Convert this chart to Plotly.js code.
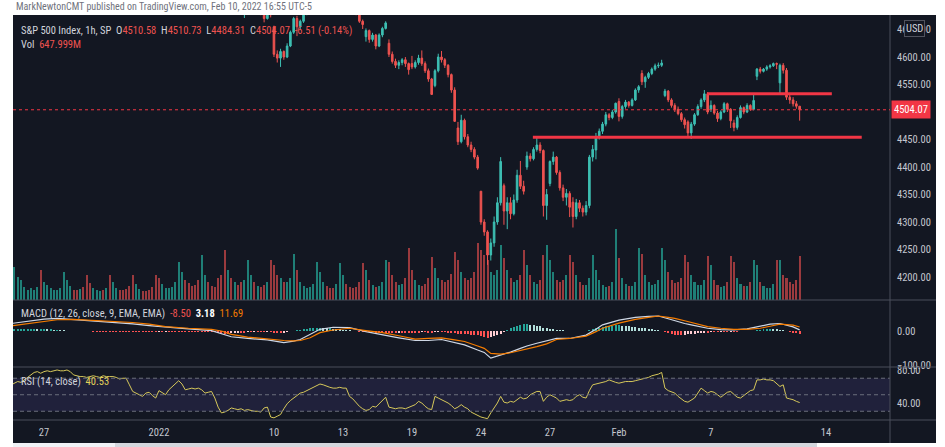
<!DOCTYPE html>
<html><head><meta charset="utf-8">
<script src="https://cdn.plot.ly/plotly-3.0.1.min.js"></script>
<style>html,body{margin:0;padding:0;background:#fff;overflow:hidden}#chart{width:945px;height:447px}</style>
</head><body><div id="chart"></div>
<script>
// ---------- DATA (hourly bars, index 0 = first bar of Dec 27, 2021) ----------
const firstBar = -10;
const barsPerDay = [3,7,7,7,7,7,7,7,7,7,7,7,7,7,7,7,7,7,7,7,7,7,7,7,7,7,7,7,7,7,7,7,7,7,7];
// day opens: Dec22(part),Dec23,Dec27..Dec31,Jan3..7,Jan10..14,Jan18..21,Jan24..28,Jan31,Feb1..4,Feb7..10
const dayOpen = [4680,4703,4733,4795,4788,4795,4776,4779,4804,4787,4693,4698,4655,4670,4728,4733,4637,4625,4588,4548,4471,4356,4366,4400,4370,4336,4431,4519,4570,4530,4482,4505,4480,4565,4553];
const close = [
4686,4690,4696,
4712,4718,4722,4728,4730,4735,4725,
4750,4760,4768,4774,4780,4786,4791,
4800,4805,4798,4792,4795,4790,4786,
4782,4790,4795,4800,4798,4802,4793,
4802,4806,4800,4798,4795,4785,4778,
4780,4785,4778,4775,4772,4770,4766,
4765,4770,4778,4785,4790,4793,4796,
4815,4810,4800,4790,4785,4780,4793,
4795,4790,4785,4775,4740,4720,4701,
4700,4690,4710,4705,4685,4690,4696,
4700,4690,4695,4680,4670,4680,4677,
4605,4598,4610,4600,4620,4645,4670,
4655,4665,4680,4690,4700,4705,4713,
4740,4745,4730,4720,4715,4720,4726,
4740,4725,4710,4695,4680,4665,4659,
4648,4632,4640,4620,4640,4652,4662,
4605,4592,4585,4590,4595,4588,4577,
4582,4590,4598,4588,4575,4560,4532,
4575,4600,4595,4585,4568,4540,4483,
4446,4485,4455,4440,4432,4418,4398,
4300,4282,4240,4262,4300,4335,4410,
4320,4335,4315,4340,4385,4365,4356,
4420,4415,4432,4440,4430,4330,4350,
4410,4418,4390,4362,4345,4352,4327,
4310,4335,4325,4318,4330,4418,4432,
4455,4465,4478,4495,4490,4500,4516,
4492,4510,4518,4512,4522,4540,4546,
4555,4563,4570,4578,4584,4585,4589,
4538,4522,4512,4505,4497,4486,4477,
4462,4478,4495,4510,4522,4533,4500,
4512,4498,4488,4500,4515,4505,4484,
4472,4490,4508,4500,4512,4505,4521,
4578,4574,4578,4582,4584,4588,4587,
4585,4576,4527,4522,4515,4510.58,4504.07];
const high = [
4688,4693,4697,
4714,4721,4725,4730,4733,4740,4736,
4752,4762,4770,4776,4782,4788,4791,
4803,4807,4806,4800,4797,4796,4792,
4790,4792,4797,4803,4802,4805,4803,
4805,4808,4807,4802,4800,4796,4787,
4783,4787,4786,4780,4777,4774,4772,
4780,4772,4780,4787,4792,4795,4797,
4819,4817,4812,4802,4793,4788,4795,
4798,4797,4792,4787,4777,4743,4722,
4708,4703,4715,4725,4707,4695,4700,
4708,4703,4697,4696,4683,4683,4685,
4657,4612,4615,4612,4625,4648,4673,
4675,4668,4683,4693,4703,4708,4715,
4744,4749,4747,4733,4722,4724,4729,
4744,4742,4727,4712,4698,4683,4668,
4652,4650,4644,4642,4643,4655,4665,
4632,4610,4597,4594,4598,4600,4590,
4602,4594,4604,4612,4592,4579,4562,
4578,4606,4611,4598,4587,4570,4545,
4482,4495,4488,4460,4446,4436,4422,
4356,4305,4285,4270,4310,4345,4418,
4370,4345,4345,4350,4395,4411,4375,
4428,4425,4436,4453,4445,4432,4360,
4412,4428,4420,4394,4368,4360,4356,
4345,4342,4340,4330,4338,4422,4440,
4462,4470,4482,4500,4498,4504,4517,
4525,4513,4522,4520,4525,4543,4549,
4576,4566,4573,4581,4588,4590,4595,
4542,4540,4525,4516,4510,4500,4490,
4485,4482,4498,4514,4525,4540,4536,
4521,4514,4502,4503,4518,4517,4507,
4486,4494,4512,4510,4516,4514,4531,
4580,4582,4580,4585,4587,4590,4590,
4588,4589,4580,4531,4527,4520,4510.73];
const low = [
4676,4683,4688,
4700,4709,4715,4720,4725,4728,4722,
4733,4748,4758,4766,4772,4778,4784,
4790,4797,4796,4789,4790,4787,4780,
4778,4780,4788,4793,4795,4796,4790,
4792,4800,4798,4795,4792,4783,4775,
4772,4778,4776,4772,4769,4767,4765,
4759,4762,4768,4776,4783,4788,4790,
4800,4806,4797,4787,4780,4775,4778,
4785,4786,4782,4772,4735,4715,4699,
4685,4680,4688,4700,4680,4671,4686,
4690,4685,4686,4676,4663,4668,4672,
4600,4590,4582,4595,4598,4618,4642,
4638,4650,4662,4676,4688,4698,4702,
4725,4737,4728,4716,4703,4712,4717,
4730,4722,4706,4692,4676,4662,4651,
4628,4626,4628,4614,4618,4636,4650,
4600,4588,4580,4578,4585,4582,4568,
4578,4579,4586,4584,4571,4555,4531,
4545,4572,4590,4580,4563,4535,4482,
4440,4443,4450,4436,4427,4414,4395,
4295,4275,4222,4230,4255,4295,4330,
4295,4287,4305,4312,4335,4360,4350,
4395,4410,4412,4428,4425,4310,4304,
4365,4404,4386,4357,4338,4330,4309,
4290,4305,4318,4310,4312,4325,4410,
4414,4450,4460,4474,4485,4487,4497,
4483,4488,4506,4508,4510,4520,4535,
4549,4544,4560,4567,4575,4580,4582,
4527,4518,4508,4500,4494,4482,4470,
4455,4451,4475,4493,4506,4518,4496,
4500,4495,4482,4485,4498,4500,4471,
4465,4468,4488,4496,4498,4502,4503,
4558,4570,4572,4575,4579,4582,4578,
4531,4570,4522,4515,4510,4506,4484.31];
// volume, millions
const volume = [
294,486,339,
294,191,147,177,147,191,442,
265,221,177,147,147,177,412,
294,206,147,147,162,191,368,
250,177,147,132,147,177,368,
265,177,147,147,162,206,368,
236,162,132,132,147,191,368,
324,236,177,177,191,265,560,
412,294,250,206,221,294,663,
368,265,206,191,324,368,736,
442,324,265,221,265,294,589,
368,265,206,191,221,265,589,
515,368,324,265,265,324,678,
442,265,206,177,191,236,560,
412,265,206,177,177,236,545,
368,236,191,177,191,265,545,
442,294,221,191,206,265,589,
560,368,265,221,236,324,766,
442,294,221,206,236,324,633,
471,324,294,265,294,383,707,
589,412,324,294,324,412,840,
736,663,589,412,368,442,810,
619,442,324,265,294,368,736,
515,368,265,236,294,663,810,
589,412,294,265,294,368,663,
560,368,265,221,221,324,663,
442,294,221,191,206,265,1046,
619,324,236,206,206,265,766,
678,368,265,221,236,294,766,
589,412,294,250,265,324,663,
560,368,265,221,221,294,648,
515,294,221,191,206,265,648,
560,324,236,206,206,265,589,
515,265,206,177,177,236,589,
589,368,324,265,236,294,647.999];
// MACD (12,26,9) lines, sampled at bar indices
const macdX =      [-10,-6,-3,0,4,9,14,17,22,27,32,37,44,51,54,57,62,68,73,76,78,81,84,88,93,98,103,108,113,117,121,125,128,132,134,136,139,142,145,147,150,153,156,160,165,168,170,175,180,184,187,190,192,195,197,202,206,210,214,218,221,224,226,228,230];
const macdLine =   [22,28,32,35,37,34,31,27,24,21,16,11,6,1,-8,-17,-22,-26,-34,-30,-25,-10,5,11,10,-2,-12,-20,-28,-28,-25,-33,-41,-56,-63,-80,-72,-62,-51,-44,-36,-30,-22,-22,-12,5,18,32,40,43,44,36,30,22,18,8,4,3,6,15,20,22,18,12,3.18];
const signalLine = [15,20,25,29,33,34,32,30,27,25,20,13,8,5,0,-10,-18,-24,-28,-29,-28,-20,-5,3,8,1,-5,-14,-24,-22,-20,-26,-31,-44,-51,-66,-68,-64,-58,-54,-46,-38,-25,-22,-15,-2,8,23,34,40,44,40,37,30,25,13,8,5,5,8,14,20,19,17,11.69];
const histogram = [
7,7,7,
7,7,7,7,7,6,6,
6,5,5,4,4,3,2,
1,0.5,0.2,-0.2,-0.5,-1,-1,
-1,-2,-2,-3,-3,-3,-3,
-3,-3,-3,-3,-4,-4,-4,
-4,-4,-4,-4,-4,-4,-4,
-3,-3,-2,-2,-2,-2,-2,
-2,-2,-2,-2,-3,-3,-3,
-3,-4,-4,-4,-6,-7,-8,
-8,-7,-6,-5,-5,-5,-4,
-4,-3,-3,-3,-3,-2,-2,
-5,-6,-6,-5,-3,-1,1,
2,3,5,7,8,9,10,
10,9,8,8,7,6,5,
4,3,2,1,-1,-2,-3,
-3,-4,-4,-5,-6,-6,-6,
-6,-6,-6,-5,-5,-5,-5,
-5,-5,-5,-4,-4,-5,-5,
-4,-3,-3,-4,-5,-6,-7,
-8,-9,-10,-10,-11,-12,-13,
-16,-18,-20,-19,-16,-12,-8,
-2,3,8,12,16,19,20,
20,19,18,16,14,10,8,
6,5,4,3,2,1,0,
0,-1,-1,-1,0,2,5,
8,10,12,14,15,16,17,
17,16,15,14,13,12,10,
9,8,6,5,4,2,1,
-4,-7,-9,-11,-12,-12,-11,
-10,-9,-8,-7,-6,-5,-5,
-4,-4,-4,-3,-3,-3,-2,
-2,-2,-1,-1,0,0,1,
3,4,5,6,7,6,5,
4,2,-1,-3,-5,-7,-8.5];
const rsi = [
62,64,66,
65,68,70,74,77,78,76,
78,79,78,79,80,79,79,
80,78,74,73,72,72,71,
72,73,72,71,73,72,72,
72,71,69,70,70,62,54,
52,50,48,52,53,49,46,
55,52,50,56,60,64,67,
63,56,57,58,57,58,56,
52,53,54,46,35,28,29,
31,34,33,32,33,31,32,
31,30,30,29,34,35,23,
22,24,26,33,39,43,46,
48,52,53,55,56,58,60,
63,62,60,59,58,58,59,
58,58,48,45,40,36,33,
31,32,36,35,39,43,47,
35,34,33,34,34,33,35,
36,38,42,40,36,33,32,
48,46,44,43,40,37,33,
35,38,35,33,29,27,24,
23,22,21,28,34,40,48,
41,40,42,41,44,47,45,
46,50,52,54,54,42,47,
50,48,46,42,43,44,43,
44,48,50,47,46,55,62,
63,64,65,66,68,66,65,
64,65,66,66,66,67,68,
69,70,71,73,74,75,77,
58,55,53,52,48,45,42,
41,43,46,52,58,55,52,
54,53,50,47,50,53,54,
50,47,46,49,52,55,56,
68,68,69,68,68,67,64,
60,62,46,45,44,42,40.53];
// drawn horizontal levels (user trend lines)
const trendLevel = [4454, 4533];
const trendFrom  = [148.8, 201.8];
const trendTo    = [248.9, 239.8];
// axis ticks (4500.00 is hidden under the last-price tag in the reference)
const dateTickIdx  = [0,35,70,91,112,133,154,175,203,238];
const dateTickText = ['27','2022','10','13','19','24','27','Feb','7','14'];
const priceTicks = [4200,4250,4300,4350,4400,4450,4550,4600,4650];
const macdTicks = [0,-100];
const rsiTicks = [80,40];
const rsiBands = [70,50,30];

// ---------- BUILD ----------
const W=945,H=447;
const PX=v=>v/W, PY=v=>1-v/H;
const FONT='"Liberation Sans Narrow","Roboto Condensed","DejaVu Sans Condensed",Roboto,sans-serif';
const UP='#3dbfb3', DN='#ef5350', VUP='#1f7f77', VDN='#9b3a3e';
const xs = close.map((_,k)=>firstBar+k);
const open=[]; let kk=0;
barsPerDay.forEach((cnt,d)=>{for(let j=0;j<cnt;j++){open.push(j===0?dayOpen[d]:close[kk-1]);kk++;}});
const volColors = close.map((c,i)=>c>=open[i]?VUP:VDN);
const histColors = histogram.map((h,i)=>{const p=i>0?histogram[i-1]:h;
  return h>=0?(h>=p?'#26a69a':'#b2dfdb'):(h>p?'#ffcdd2':'#ff5252');});
const n=close.length;
const lastO=open[n-1], lastH=high[n-1], lastL=low[n-1], lastC=close[n-1];
const chg=lastC-close[n-2], pct=chg/close[n-2]*100;
const red=t=>'<span style="color:#ef5350">'+t+'</span>';

const traces=[
 {type:'bar',x:xs,y:volume,xaxis:'x',yaxis:'y',marker:{color:volColors,line:{width:0}},width:0.62,hoverinfo:'skip'},
 {type:'candlestick',x:xs,open:open,high:high,low:low,close:close,xaxis:'x',yaxis:'y4',
  increasing:{line:{color:UP,width:1},fillcolor:UP},decreasing:{line:{color:DN,width:1},fillcolor:DN},
  whiskerwidth:0,hoverinfo:'skip'},
 {type:'bar',x:xs,y:histogram,xaxis:'x',yaxis:'y2',marker:{color:histColors,line:{width:0}},width:0.6,hoverinfo:'skip'},
 {type:'scatter',mode:'lines',x:macdX,y:macdLine,xaxis:'x',yaxis:'y2',line:{color:'#cfd8e6',width:1.2},hoverinfo:'skip'},
 {type:'scatter',mode:'lines',x:macdX,y:signalLine,xaxis:'x',yaxis:'y2',line:{color:'#f57c00',width:1.2},hoverinfo:'skip'},
 {type:'scatter',mode:'lines',x:xs,y:rsi,xaxis:'x',yaxis:'y3',line:{color:'#d6c85a',width:1},hoverinfo:'skip'}
];

const axFont={family:FONT,size:10.5,color:'#c3c6ce'};
const shapes=[
 {type:'rect',xref:'paper',yref:'paper',x0:PX(13),x1:PX(936),y0:PY(443),y1:PY(15),fillcolor:'#131722',line:{width:0},layer:'below'},
 {type:'rect',xref:'paper',yref:'paper',x0:PX(13),x1:PX(115),y0:0,y1:PY(443),fillcolor:'#f0f2f6',line:{width:0}},
 {type:'rect',xref:'paper',yref:'paper',x0:PX(115),x1:PX(817),y0:0,y1:PY(443),fillcolor:'#d4d7de',line:{width:0}},
 {type:'rect',xref:'paper',yref:'y3',x0:PX(13),x1:PX(890),y0:rsiBands[2],y1:rsiBands[0],fillcolor:'rgba(120,100,230,0.13)',line:{width:0},layer:'below'},
];
rsiBands.forEach(v=>shapes.push({type:'line',xref:'paper',yref:'y3',x0:PX(13),x1:PX(890),y0:v,y1:v,line:{color:'#6b6f7c',width:1,dash:'4px,3px'}}));
[300,367,420].forEach(v=>shapes.push({type:'line',xref:'paper',yref:'paper',x0:PX(13),x1:PX(936),y0:PY(v),y1:PY(v),line:{color:'#4a4e5a',width:1}}));
shapes.push({type:'line',xref:'paper',yref:'paper',x0:PX(890),x1:PX(890),y0:PY(443),y1:PY(15),line:{color:'#4a4e5a',width:1}});
shapes.push({type:'line',xref:'paper',yref:'y4',x0:PX(13),x1:PX(890),y0:lastC,y1:lastC,line:{color:'#f23645',width:1,dash:'dot'}});
trendLevel.forEach((v,i)=>shapes.push({type:'line',xref:'x',yref:'y4',x0:trendFrom[i],x1:trendTo[i],y0:v,y1:v,line:{color:'#f23645',width:3}}));

const lg={family:FONT,size:10.5,color:'#d1d4dc'};
const annotations=[
 {xref:'paper',yref:'paper',x:PX(14),y:PY(6.5),xanchor:'left',yanchor:'middle',showarrow:false,
  text:'MarkNewtonCMT published on TradingView.com, Feb 10, 2022 16:55 UTC-5',font:{family:FONT,size:10,color:'#6f727c'}},
 {xref:'paper',yref:'paper',x:PX(19),y:PY(30),xanchor:'left',yanchor:'middle',showarrow:false,font:lg,
  text:'S&amp;P 500 Index, 1h, SP  O'+red(lastO.toFixed(2))+'  H'+red(lastH.toFixed(2))+'  L'+red(lastL.toFixed(2))+'  C'+red(lastC.toFixed(2))+'  '+red(chg.toFixed(2)+' ('+pct.toFixed(2)+'%)')},
 {xref:'paper',yref:'paper',x:PX(19),y:PY(44),xanchor:'left',yanchor:'middle',showarrow:false,font:lg,
  text:'Vol  '+red(volume[n-1].toFixed(3)+'M')},
 {xref:'paper',yref:'paper',x:PX(19),y:PY(313),xanchor:'left',yanchor:'middle',showarrow:false,font:lg,
  text:'MACD (12, 26, close, 9, EMA, EMA)  '+red(histogram[n-1].toFixed(2))+'  <b><span style="color:#ffffff">'+macdLine[macdLine.length-1].toFixed(2)+'</span></b>  <span style="color:#f57c00">'+signalLine[signalLine.length-1].toFixed(2)+'</span>'},
 {xref:'paper',yref:'paper',x:PX(19),y:PY(381),xanchor:'left',yanchor:'middle',showarrow:false,font:lg,
  text:'RSI (14, close)  <span style="color:#e3d35a">'+rsi[n-1].toFixed(2)+'</span>'},
 {xref:'paper',yref:'y4',x:PX(891),y:lastC,xanchor:'left',yanchor:'middle',showarrow:false,
  text:lastC.toFixed(2),bgcolor:'#f23645',borderpad:2,font:{family:FONT,size:10.5,color:'#ffffff'}},
 {xref:'paper',yref:'paper',x:PX(914),y:PY(29),xanchor:'center',yanchor:'middle',showarrow:false,
  text:'USD',bgcolor:'#131722',bordercolor:'#50535e',borderwidth:1,borderpad:1,font:{family:FONT,size:10.5,color:'#d1d4dc'}}
];

const layout={
 width:W,height:H,margin:{l:0,r:0,t:0,b:0,pad:0},paper_bgcolor:'#ffffff',plot_bgcolor:'#131722',
 showlegend:false,bargap:0,
 xaxis:{domain:[PX(13),PX(890)],range:[-9.43,257.5],anchor:'y3',rangeslider:{visible:false},tickmode:'array',tickvals:dateTickIdx,ticktext:dateTickText,
   tickfont:axFont,showgrid:false,zeroline:false,showline:false,ticks:'',ticklabelstandoff:4,fixedrange:true},
 yaxis:{domain:[PY(300),PY(15)],range:[0,4170],visible:false,fixedrange:true},
 yaxis4:{overlaying:'y',side:'right',anchor:'x',range:[4158.2,4676.4],tickmode:'array',tickvals:priceTicks,tickformat:'.2f',
   tickfont:axFont,showgrid:false,zeroline:false,showline:false,ticks:'',ticklabelstandoff:6,fixedrange:true},
 yaxis2:{domain:[PY(367),PY(301)],range:[-105.9,88.2],side:'right',anchor:'x',tickmode:'array',tickvals:macdTicks,tickformat:'.2f',
   tickfont:axFont,showgrid:false,zeroline:false,showline:false,ticks:'',ticklabelstandoff:6,fixedrange:true},
 yaxis3:{domain:[PY(420),PY(368)],range:[19.4,82.4],side:'right',anchor:'x',tickmode:'array',tickvals:rsiTicks,tickformat:'.2f',
   tickfont:axFont,showgrid:false,zeroline:false,showline:false,ticks:'',ticklabelstandoff:6,fixedrange:true},
 shapes:shapes,annotations:annotations
};
Plotly.newPlot('chart',traces,layout,{staticPlot:true,displayModeBar:false});
</script></body></html>
